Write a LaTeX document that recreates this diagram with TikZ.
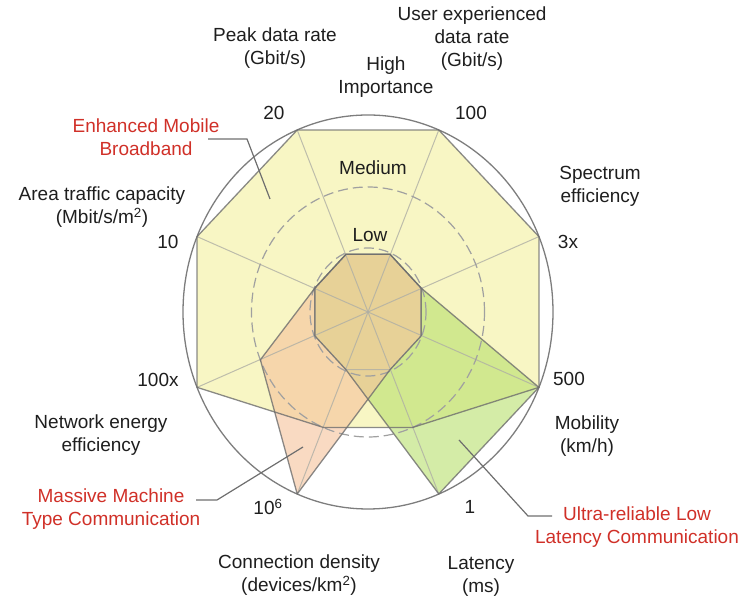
\documentclass[tikz,border=0pt]{standalone}
\usepackage{fontspec}
\setmainfont{Liberation Sans}
\definecolor{yel}{RGB}{248,246,196}
\definecolor{grn}{RGB}{183,223,108}
\definecolor{org}{RGB}{245,195,157}
\definecolor{txt}{RGB}{30,30,30}
\definecolor{redtxt}{RGB}{208,48,40}
\definecolor{olgray}{RGB}{110,110,110}
\definecolor{spokegray}{RGB}{175,175,165}
\definecolor{dashgray}{RGB}{160,160,160}
\definecolor{circgray}{RGB}{125,125,125}
\begin{document}
\begin{tikzpicture}[x=1pt,y=1pt,
  lbl/.style={font=\fontsize{19}{23}\selectfont, text=txt, align=center, inner sep=0pt},
  redlbl/.style={lbl, text=redtxt},
  outline/.style={draw=olgray, line width=1.3pt, line join=round, draw opacity=0.8},
  spoke/.style={draw=spokegray, line width=1pt, draw opacity=0.8},
  callout/.style={draw=olgray, line width=1.2pt},
  dashc/.style={draw=dashgray, line width=1.2pt, dash pattern=on 10pt off 5pt}]
\useasboundingbox (0,0) rectangle (745,601);
\coordinate (C) at (368,289);
\begin{scope}[shift={(368,289)}]
\foreach \i/\a in {1/112.5,2/67.5,3/22.5,4/-22.5,5/-67.5,6/-112.5,7/-157.5,8/157.5}{
  \coordinate (H\i) at (\a:185 and 197);
  \coordinate (M\i) at (\a:116.5 and 125);
  \coordinate (L\i) at (\a:57.5 and 62.5);
}
\end{scope}
% fills
\fill[yel] (H1)--(H2)--(H3)--(H4)--(M5)--(M6)--(H7)--(H8)--cycle;
\fill[grn, fill opacity=0.6] (L1)--(L2)--(L3)--(H4)--(H5)--(L6)--(L7)--(L8)--cycle;
\fill[org, fill opacity=0.62] (L1)--(L2)--(L3)--(L4)--(L5)--(H6)--(M7)--(L8)--cycle;
% grid
\foreach \i in {1,...,8} \draw[spoke] (C) -- (H\i);
\draw[spoke] (L1)--(L2)--(L3)--(L4)--(L5)--(L6)--(L7)--(L8)--cycle;
\draw[dashc] (C) ellipse [x radius=116.5, y radius=125];
\draw[dashc] (C) ellipse [x radius=58, y radius=64];
\draw[draw=circgray, line width=1.3pt] (C) ellipse [x radius=185, y radius=197];
% outlines
\draw[outline] (H1)--(H2)--(H3)--(H4)--(M5)--(M6)--(H7)--(H8)--cycle;
\draw[outline] (L1)--(L2)--(L3)--(H4)--(H5)--(L6)--(L7)--(L8)--cycle;
\draw[outline] (L1)--(L2)--(L3)--(L4)--(L5)--(H6)--(M7)--(L8)--cycle;
% labels
\node[lbl] (peak) at (275,553) {Peak data rate\\(Gbit/s)};
\node[lbl] (user) at (472,562) {User experienced\\data rate\\(Gbit/s)};
\node[lbl] (high) at (386,524) {High\\Importance};
\node[lbl] (v20) at (274,488) {20};
\node[lbl] (v100) at (471,488) {100};
\node[lbl] (spec) at (600,415) {Spectrum\\efficiency};
\node[lbl] (v3x) at (568,359) {3x};
\node[lbl] (v500) at (569,222) {500};
\node[lbl] (mob) at (587,165) {Mobility\\(km/h)};
\node[lbl] (v1) at (470,94) {1};
\node[redlbl] (urllc) at (637,74) {Ultra-reliable Low\\Latency Communication};
\node[lbl] (lat) at (481,25) {Latency\\(ms)};
\node[lbl] (conn) at (299,26) {Connection density\\(devices/km\textsuperscript{2})};
\node[lbl] (v106) at (268,94) {10\textsuperscript{6}};
\node[redlbl] (mmtc) at (111,92) {Massive Machine\\Type Communication};
\node[lbl] (energy) at (101,166) {Network energy\\efficiency};
\node[lbl] (v100x) at (158,221) {100x};
\node[lbl] (v10) at (168,359) {10};
\node[lbl] (area) at (102,394) {Area traffic capacity\\(Mbit/s/m\textsuperscript{2})};
\node[redlbl] (embb) at (146,464) {Enhanced Mobile\\Broadband};
\node[lbl] (med) at (373,433) {Medium};
\node[lbl] (low) at (370,366) {Low};
% callouts
\coordinate (e1) at (208,462);
\coordinate (e2) at (247,462);
\coordinate (e3) at (270,402);
\draw[callout] (e1) -- (e2) -- (e3);
\coordinate (m1) at (196,101);
\coordinate (m2) at (217,101);
\coordinate (m3) at (303,154);
\draw[callout] (m1) -- (m2) -- (m3);
\coordinate (u1) at (459,161);
\coordinate (u2) at (528,85);
\coordinate (u3) at (552,85);
\draw[callout] (u1) -- (u2) -- (u3);
\end{tikzpicture}
\end{document}
